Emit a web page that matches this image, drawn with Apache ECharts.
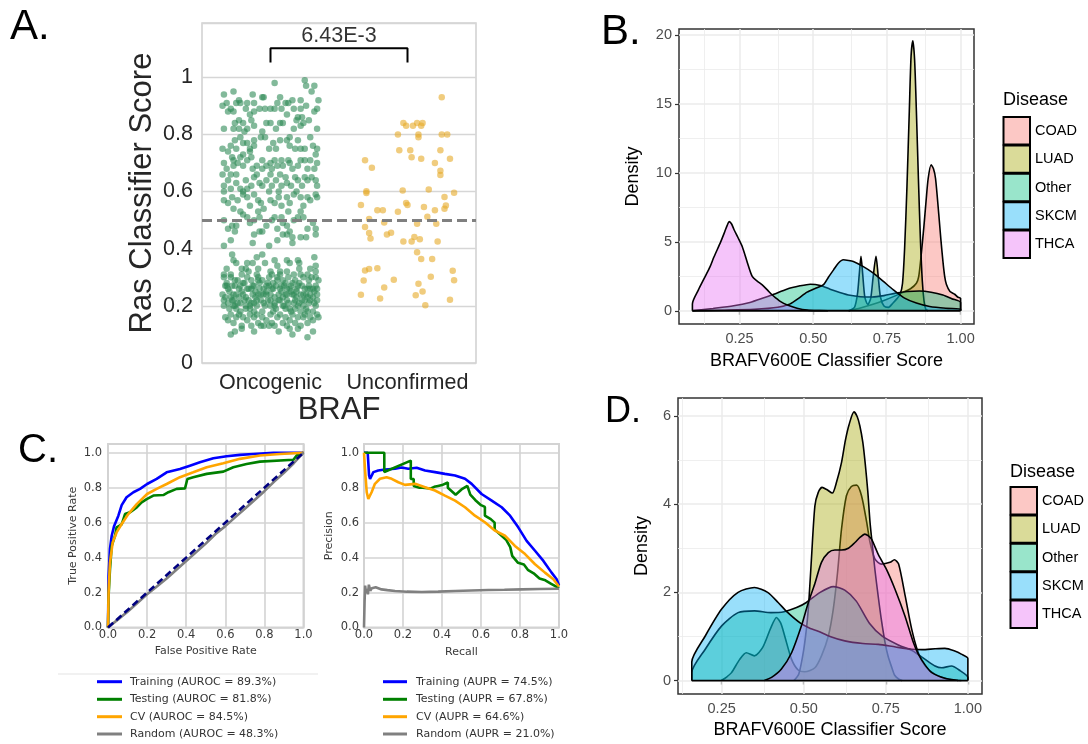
<!DOCTYPE html>
<html><head><meta charset="utf-8">
<script src="https://cdn.jsdelivr.net/npm/echarts@6/dist/echarts.min.js"></script>
<style>html,body{margin:0;padding:0;background:#fff}#c{width:1088px;height:744px}</style>
</head><body><div id="c"></div><script>
// ---------- Panel A data ----------
const brafCategories = ['Oncogenic', 'Unconfirmed'];
const pValueText = '6.43E-3';
// [jitter, Ras classifier score]
const oncogenicPoints = [
[.03,.98],[.25,.99],[.32,.97],[.26,.97],[.30,.95],[-.34,.94],[-.27,.95],[-.13,.94],[-.06,.93],[-.05,.93],[.07,.93],[.35,.92],[.22,.92],
[-.35,.90],[-.32,.91],[-.29,.89],[-.25,.91],[-.23,.92],[-.22,.91],[-.17,.91],[-.18,.89],[-.12,.91],[-.12,.88],[-.08,.89],[-.04,.89],[0,.89],[.03,.89],[.05,.91],[.08,.89],[.11,.91],[.13,.91],[.16,.92],[.17,.89],[.22,.89],[.26,.90],[.32,.88],[.34,.89],[-.31,.88],[-.27,.88],[-.15,.87],[.12,.87],
[-.34,.82],[-.27,.82],[-.26,.84],[-.23,.82],[-.20,.84],[-.19,.81],[-.14,.85],[-.12,.83],[-.06,.81],[-.03,.84],[0,.84],[.04,.82],[.07,.84],[.09,.84],[.17,.82],[.19,.85],[.22,.83],[.24,.84],[.28,.85],[.34,.82],[-.23,.85],[-.17,.82],[.20,.86],[.23,.86],
[-.35,.75],[-.29,.76],[-.26,.78],[-.22,.79],[-.20,.77],[-.17,.77],[-.15,.75],[-.12,.78],[-.12,.76],[-.07,.79],[-.01,.75],[.02,.77],[.07,.78],[.12,.78],[.14,.79],[.14,.76],[.18,.75],[.20,.78],[.22,.75],[.25,.75],[.29,.79],[.31,.76],[.34,.75],[-.31,.74],[-.25,.75],[-.04,.79],[.04,.75],
[-.34,.70],[-.32,.68],[-.27,.71],[-.27,.69],[-.24,.70],[-.22,.72],[-.20,.69],[-.17,.71],[-.14,.72],[-.13,.68],[-.10,.69],[-.06,.68],[-.03,.69],[0,.70],[.03,.71],[.05,.69],[.08,.71],[.09,.69],[.13,.71],[.14,.70],[.16,.68],[.20,.69],[.22,.71],[.25,.71],[.27,.68],[.29,.71],[.33,.73],[.34,.70],[.32,.68],[-.06,.71],[.01,.68],[-.28,.72],[-.15,.74],[-.20,.73],
[-.35,.66],[-.34,.62],[-.31,.64],[-.29,.66],[-.25,.66],[-.25,.63],[-.22,.61],[-.18,.64],[-.17,.61],[-.14,.62],[-.12,.65],[-.10,.66],[-.08,.63],[-.06,.62],[-.03,.64],[0,.66],[.01,.62],[.04,.64],[.07,.66],[.08,.62],[.11,.65],[.12,.63],[.15,.62],[.18,.65],[.20,.64],[.23,.62],[.25,.65],[.27,.64],[.30,.65],[.33,.64],[.34,.62],[-.34,.60],[-.29,.61],[-.20,.60],[-.01,.60],[.06,.60],[.19,.60],
[-.34,.57],[-.31,.56],[-.28,.58],[-.27,.54],[-.24,.57],[-.20,.59],[-.17,.58],[-.15,.55],[-.12,.59],[-.09,.57],[-.07,.56],[-.05,.54],[0,.57],[.03,.56],[.06,.58],[.08,.55],[.12,.58],[.14,.56],[.17,.59],[.22,.58],[.24,.55],[.27,.58],[.29,.57],[.33,.59],[.34,.58],[-.22,.53],[-.09,.53],[.13,.53],[.22,.53],
[-.34,.50],[-.31,.47],[-.28,.48],[-.26,.46],[-.20,.52],[-.17,.51],[-.15,.49],[-.12,.50],[-.08,.51],[-.03,.48],[.01,.50],[.03,.51],[.08,.51],[.09,.49],[.12,.48],[.17,.50],[.20,.51],[.24,.51],[.27,.47],[.31,.49],[.33,.47],[-.25,.48],[.05,.47],[.14,.46],
[-.34,.41],[-.29,.43],[-.13,.42],[-.12,.45],[-.08,.46],[-.06,.46],[.09,.45],[.12,.45],[.16,.44],[.16,.42],[.22,.44],[.26,.44],[.33,.45],[.05,.43],[-.01,.41],
[-.28,.38],[-.27,.36],[-.25,.35],[-.21,.33],[-.18,.33],[-.17,.35],[-.13,.35],[-.09,.33],[-.06,.38],[-.04,.35],[0,.32],[.05,.34],[.07,.32],[.12,.32],[.14,.35],[.20,.36],[.21,.35],[.21,.33],[.29,.33],[.32,.37],[.33,.34],[-.32,.33],[-.34,.31],[-.10,.37],[.03,.36],[.12,.36],
[-.34,.30],[-.32,.28],[-.31,.26],[-.33,.23],[-.31,.21],[-.29,.30],[-.28,.27],[-.27,.24],[-.27,.22],[-.26,.20],[-.24,.29],[-.23,.26],[-.23,.23],[-.22,.21],[-.20,.28],[-.20,.24],[-.18,.19],[-.17,.30],[-.17,.26],[-.16,.22],[-.15,.20],[-.14,.29],[-.13,.24],[-.12,.27],[-.11,.23],[-.10,.20],[-.09,.30],[-.08,.26],[-.07,.22],[-.06,.29],[-.05,.24],[-.04,.20],[-.03,.27],[-.02,.22],[-.01,.30],[0,.24],[0,.20],[.02,.28],[.02,.26],[.03,.23],[.04,.19],[.05,.30],[.06,.24],[.07,.22],[.08,.27],[.09,.29],[.10,.20],[.11,.24],[.12,.26],[.12,.22],[.13,.30],[.14,.19],[.15,.27],[.16,.24],[.17,.21],[.18,.29],[.19,.26],[.19,.23],[.20,.20],[.21,.28],[.22,.24],[.23,.22],[.24,.30],[.25,.26],[.26,.19],[.27,.23],[.28,.29],[.28,.21],[.29,.26],[.30,.30],[.31,.23],[.33,.20],[.33,.27],[.34,.24],[.34,.22],[.35,.29],
[-.30,.19],[-.25,.19],[-.15,.19],[-.06,.18],[.11,.19],[.22,.18],[.31,.18],[-.35,.24],[-.34,.22],[-.21,.31],[-.10,.31],[.01,.31],[.17,.31],[.27,.31],[-.32,.27],[-.29,.23],[-.25,.24],[-.22,.27],[-.19,.22],[-.14,.26],[-.12,.21],[-.09,.24],[-.05,.26],[-.01,.27],[.03,.21],[.07,.26],[.09,.23],[.14,.26],[.17,.24],[.20,.27],[.24,.24],[.25,.22],[.29,.24],[.32,.25],[-.26,.29],[-.18,.20],[-.09,.29],[-.03,.24],[.05,.29],[.11,.28],[.18,.19],[.27,.26],[.33,.30],[-.27,.20],
[-.33,.27],[-.30,.25],[-.28,.22],[-.26,.27],[-.24,.21],[-.21,.25],[-.19,.28],[-.18,.23],[-.16,.26],[-.14,.21],[-.13,.27],[-.11,.25],[-.10,.22],[-.08,.28],[-.07,.24],[-.05,.21],[-.03,.25],[-.02,.28],[0,.22],[.01,.26],[.03,.20],[.04,.27],[.06,.22],[.08,.25],[.09,.20],[.10,.27],[.12,.24],[.13,.21],[.15,.25],[.16,.28],[.18,.22],[.19,.25],[.21,.21],[.23,.27],[.24,.20],[.26,.24],[.28,.27],[.29,.22],[.31,.26],[.32,.21],[.34,.26],[-.34,.20],[-.22,.18],[-.12,.18],[.02,.18],[.15,.18],[.27,.18],[-.29,.31],[-.16,.32],[.07,.31],[.22,.31],[.33,.32],
[-.33,.16],[-.31,.15],[-.29,.17],[-.27,.14],[-.25,.16],[-.23,.17],[-.21,.13],[-.20,.16],[-.17,.15],[-.15,.17],[-.14,.13],[-.12,.16],[-.10,.17],[-.09,.14],[-.06,.16],[-.05,.13],[-.03,.15],[0,.17],[.01,.14],[.03,.13],[.05,.16],[.07,.17],[.09,.14],[.11,.16],[.12,.13],[.14,.15],[.16,.17],[.18,.14],[.20,.16],[.22,.13],[.24,.16],[.25,.17],[.27,.14],[.29,.16],[.31,.15],[.34,.17],[.35,.16],
[-.29,.10],[-.26,.11],[-.21,.12],[-.12,.11],[-.07,.13],[-.01,.13],[.06,.11],[.14,.12],[.20,.12],[.16,.10],[.27,.09],[.31,.11]
];
const unconfirmedPoints = [
[.25,.93],[-.03,.84],[-.01,.83],[.04,.83],[.07,.84],[.10,.83],[.11,.84],[-.07,.80],[.08,.80],[.08,.79],[.25,.80],[.29,.80],
[-.06,.745],[.02,.745],[.24,.745],[.03,.72],[.10,.715],[.31,.715],[-.31,.71],[-.26,.683],[.20,.70],[.24,.673],[.24,.658],
[-.30,.601],[-.30,.595],[-.035,.604],[.155,.607],[.34,.596],[.27,.581],[-.34,.553],[-.01,.56],[0,.553],[.12,.546],[.28,.551],[.27,.54],[.20,.535],[-.22,.535],[-.18,.535],[-.07,.529],[.145,.512],
[-.28,.504],[-.17,.492],[.07,.487],[.21,.487],[-.31,.476],[-.28,.455],[-.27,.436],[-.15,.45],[-.12,.456],[.05,.441],[.09,.433],[-.03,.425],[.03,.425],[.22,.425],
[.07,.388],[.10,.364],[.18,.364],[-.31,.324],[-.28,.329],[-.22,.332],[.33,.323],[-.32,.289],[-.10,.291],[.17,.302],[.34,.29],[-.17,.264],[.08,.277],[-.34,.239],[-.20,.226],[.06,.237],[.11,.25],[.31,.221],[.13,.202]
];
const thresholdA = 0.5;
const bracketA = [[1, 1.052], [1, 1.102], [2, 1.102], [2, 1.052]];

// ---------- Panels B and D ----------
const diseases = ['COAD', 'LUAD', 'Other', 'SKCM', 'THCA'];
const diseaseColors = ['#F8766D', '#A3A500', '#00BF7D', '#00B0F6', '#E76BF3'];
const densityB_COAD = [[0.62,0],[0.66,0.2],[0.7,0.45],[0.74,0.75],[0.78,1.1],[0.8,1.3],[0.83,1.6],[0.85,2.0],[0.858,2.5],[0.866,4.0],[0.875,6.0],[0.883,8.0],[0.89,9.6],[0.9,10.6],[0.908,10.3],[0.915,9.6],[0.926,7.0],[0.933,5.2],[0.94,3.6],[0.946,2.5],[0.952,1.9],[0.964,1.4],[0.98,1.2],[0.99,1.0],[1.0,0.9],[1.0,0]];
const densityB_LUAD = [[0.62,0],[0.64,0.25],[0.65,1.2],[0.656,2.6],[0.662,3.95],[0.668,2.6],[0.675,1.0],[0.685,0.45],[0.695,0.9],[0.703,2.4],[0.713,3.95],[0.72,2.6],[0.728,1.0],[0.74,0.35],[0.755,0.25],[0.77,0.55],[0.785,0.9],[0.795,1.2],[0.803,2.0],[0.81,4.5],[0.818,9.0],[0.826,14.5],[0.832,18.5],[0.838,19.6],[0.844,18.2],[0.85,14.5],[0.857,9.5],[0.864,5.0],[0.87,2.2],[0.876,0.7],[0.882,0.1],[0.89,0]];
const densityB_Other = [[0.09,0],[0.16,0.17],[0.23,0.36],[0.285,0.6],[0.33,0.92],[0.366,1.2],[0.41,1.57],[0.455,1.81],[0.49,1.93],[0.524,1.84],[0.557,1.57],[0.59,1.33],[0.625,1.12],[0.66,1.02],[0.7,1.0],[0.74,1.1],[0.78,1.28],[0.82,1.4],[0.86,1.43],[0.9,1.35],[0.94,1.15],[0.97,0.88],[1.0,0.6],[1.0,0]];
const densityB_SKCM = [[0.09,0],[0.2,0.04],[0.3,0.1],[0.38,0.25],[0.422,0.5],[0.45,0.9],[0.479,1.35],[0.51,1.65],[0.535,1.9],[0.552,2.45],[0.569,2.97],[0.585,3.45],[0.602,3.7],[0.62,3.65],[0.636,3.57],[0.67,3.2],[0.704,2.73],[0.738,2.13],[0.772,1.52],[0.81,0.92],[0.85,0.56],[0.895,0.31],[0.95,0.18],[1.0,0.12],[1.0,0]];
const densityB_THCA = [[0.09,0],[0.09,0.5],[0.11,1.5],[0.13,2.35],[0.15,3.2],[0.163,3.9],[0.186,5.0],[0.2,5.75],[0.208,6.2],[0.215,6.47],[0.223,6.3],[0.231,5.9],[0.245,5.3],[0.259,4.66],[0.275,3.6],[0.293,2.49],[0.31,2.15],[0.327,1.88],[0.345,1.5],[0.36,1.16],[0.375,0.9],[0.388,0.68],[0.41,0.43],[0.445,0.19],[0.48,0.05],[0.52,0.01],[0.55,0]];
const baselineB = [[0.09,0],[1.0,0]];
const xTicksBD = [0.25, 0.5, 0.75, 1.0];
const xMinorBD = [0.125, 0.375, 0.625, 0.875];
const yTicksB = [0, 5, 10, 15, 20];
const yMinorB = [2.5, 7.5, 12.5, 17.5];

const densityD_COAD = [[0.249,0],[0.265,0.08],[0.28,0.18],[0.305,0.48],[0.325,0.63],[0.35,0.56],[0.375,0.75],[0.4,1.2],[0.417,1.43],[0.43,1.3],[0.442,1.01],[0.463,0.48],[0.483,0.24],[0.503,0.2],[0.534,0.29],[0.554,0.56],[0.575,1.01],[0.59,1.62],[0.603,2.45],[0.615,3.43],[0.63,4.19],[0.645,4.4],[0.661,4.43],[0.676,4.19],[0.692,3.58],[0.702,3.13],[0.717,2.75],[0.737,2.64],[0.763,2.68],[0.776,2.74],[0.789,2.64],[0.809,1.92],[0.829,1.16],[0.849,0.63],[0.87,0.33],[0.9,0.14],[0.94,0.03],[0.98,0]];
const densityD_LUAD = [[0.47,0],[0.485,0.15],[0.5,0.7],[0.51,1.3],[0.516,1.84],[0.524,2.83],[0.534,3.96],[0.544,4.26],[0.556,4.38],[0.57,4.33],[0.587,4.25],[0.6,4.5],[0.615,4.94],[0.627,5.45],[0.638,5.8],[0.653,6.09],[0.663,5.98],[0.671,5.77],[0.68,5.4],[0.687,4.94],[0.695,4.3],[0.702,3.58],[0.71,3.0],[0.717,2.5],[0.727,1.9],[0.737,1.35],[0.748,0.85],[0.757,0.55],[0.768,0.3],[0.777,0.12],[0.79,0.03],[0.8,0]];
const densityD_Other = [[0.159,0],[0.159,0.18],[0.2,0.71],[0.25,1.24],[0.3,1.54],[0.35,1.58],[0.4,1.54],[0.44,1.56],[0.48,1.66],[0.508,1.77],[0.55,2.0],[0.59,2.13],[0.625,2.05],[0.66,1.8],[0.7,1.3],[0.74,1.0],[0.79,0.8],[0.83,0.68],[0.87,0.48],[0.9,0.33],[0.92,0.29],[0.95,0.33],[0.977,0.22],[1.0,0.07],[1.0,0]];
const densityD_SKCM = [[0.159,0],[0.159,0.42],[0.2,1.01],[0.25,1.62],[0.3,2.0],[0.35,2.11],[0.39,2.0],[0.422,1.77],[0.45,1.55],[0.49,1.3],[0.52,1.18],[0.544,1.12],[0.58,1.0],[0.625,0.9],[0.68,0.84],[0.727,0.82],[0.78,0.76],[0.829,0.71],[0.86,0.7],[0.9,0.72],[0.93,0.73],[0.96,0.67],[0.98,0.6],[1.0,0.5],[1.0,0]];
const densityD_THCA = [[0.38,0],[0.402,0.07],[0.432,0.26],[0.463,0.63],[0.493,1.24],[0.514,1.77],[0.534,2.2],[0.554,2.68],[0.575,2.9],[0.595,2.96],[0.615,2.96],[0.636,3.0],[0.656,3.13],[0.672,3.25],[0.686,3.32],[0.697,3.28],[0.707,3.2],[0.727,2.86],[0.752,2.52],[0.778,2.07],[0.808,1.47],[0.834,0.86],[0.849,0.6],[0.87,0.35],[0.89,0.18],[0.93,0.05],[0.97,0]];
const baselineD = [[0.159,0],[1.0,0]];
const yTicksD = [0, 2, 4, 6];
const yMinorD = [1, 3, 5];

// ---------- Panel C ----------
const curveColors = ['#0000ff', '#008000', '#ffa500', '#808080'];
const rocLegend = ['Training (AUROC = 89.3%)', 'Testing (AUROC = 81.8%)', 'CV (AUROC = 84.5%)', 'Random (AUROC = 48.3%)'];
const prLegend = ['Training (AUPR = 74.5%)', 'Testing (AUPR = 67.8%)', 'CV (AUPR = 64.6%)', 'Random (AUPR = 21.0%)'];
const rocTraining = [[0,0],[0.003,0.295],[0.01,0.45],[0.019,0.525],[0.031,0.58],[0.053,0.64],[0.07,0.7],[0.095,0.745],[0.13,0.774],[0.164,0.793],[0.2,0.821],[0.249,0.85],[0.3,0.888],[0.368,0.907],[0.419,0.926],[0.47,0.945],[0.539,0.968],[0.607,0.98],[0.675,0.988],[0.743,0.993],[0.846,0.999],[1,1]];
const rocTesting = [[0,0],[0.003,0.18],[0.01,0.33],[0.019,0.467],[0.036,0.525],[0.044,0.573],[0.07,0.59],[0.087,0.649],[0.112,0.659],[0.147,0.687],[0.172,0.716],[0.198,0.735],[0.232,0.755],[0.283,0.758],[0.309,0.774],[0.351,0.793],[0.394,0.796],[0.406,0.85],[0.436,0.86],[0.505,0.879],[0.59,0.892],[0.641,0.917],[0.709,0.936],[0.777,0.949],[0.948,0.96],[0.965,0.984],[1,1]];
const rocCV = [[0,0],[0.003,0.2],[0.01,0.37],[0.024,0.487],[0.044,0.544],[0.07,0.592],[0.104,0.649],[0.147,0.706],[0.2,0.764],[0.249,0.793],[0.3,0.821],[0.368,0.86],[0.436,0.888],[0.505,0.917],[0.59,0.94],[0.675,0.965],[0.777,0.984],[0.88,0.993],[1,1]];
const rocRandom = [[0,0],[0.05,0.045],[0.1,0.09],[0.15,0.14],[0.2,0.19],[0.25,0.235],[0.3,0.28],[0.35,0.33],[0.4,0.38],[0.45,0.43],[0.5,0.48],[0.55,0.535],[0.6,0.58],[0.65,0.63],[0.7,0.68],[0.75,0.73],[0.8,0.78],[0.85,0.835],[0.9,0.885],[0.95,0.94],[1,1]];
const rocChance = [[0,0],[1,1]];
const prTraining = [[0,1.0],[0.019,1.0],[0.026,0.87],[0.031,0.85],[0.048,0.889],[0.073,0.898],[0.108,0.904],[0.159,0.908],[0.193,0.916],[0.227,0.908],[0.27,0.914],[0.313,0.898],[0.364,0.889],[0.415,0.879],[0.467,0.87],[0.518,0.851],[0.552,0.822],[0.603,0.764],[0.655,0.726],[0.706,0.688],[0.749,0.64],[0.791,0.573],[0.834,0.496],[0.877,0.439],[0.92,0.381],[0.962,0.314],[0.988,0.276],[1.0,0.24]];
const prTesting = [[0,1],[0.104,1],[0.104,0.89],[0.24,0.955],[0.24,0.85],[0.255,0.85],[0.255,0.81],[0.285,0.8],[0.3,0.8],[0.3,0.79],[0.34,0.795],[0.36,0.805],[0.38,0.81],[0.4,0.815],[0.43,0.83],[0.43,0.8],[0.45,0.78],[0.47,0.76],[0.47,0.77],[0.5,0.79],[0.53,0.81],[0.54,0.82],[0.545,0.76],[0.57,0.73],[0.6,0.7],[0.62,0.69],[0.62,0.64],[0.65,0.62],[0.67,0.6],[0.67,0.56],[0.7,0.53],[0.73,0.5],[0.75,0.46],[0.76,0.41],[0.79,0.37],[0.82,0.36],[0.84,0.33],[0.87,0.31],[0.9,0.28],[0.93,0.27],[0.96,0.25],[1.0,0.225]];
const prCV = [[0,1.0],[0.005,0.908],[0.014,0.774],[0.022,0.736],[0.039,0.774],[0.056,0.822],[0.082,0.851],[0.116,0.86],[0.142,0.851],[0.176,0.831],[0.21,0.816],[0.262,0.822],[0.313,0.803],[0.364,0.784],[0.415,0.755],[0.467,0.726],[0.518,0.688],[0.569,0.64],[0.62,0.602],[0.672,0.554],[0.723,0.525],[0.774,0.467],[0.826,0.42],[0.877,0.362],[0.928,0.314],[0.971,0.276],[1.0,0.235]];
const prRandom = [[0,0],[0.003,0.15],[0.006,0.24],[0.01,0.2],[0.014,0.22],[0.02,0.19],[0.025,0.245],[0.032,0.21],[0.04,0.225],[0.05,0.215],[0.06,0.23],[0.07,0.22],[0.09,0.218],[0.12,0.214],[0.159,0.209],[0.22,0.205],[0.296,0.203],[0.38,0.205],[0.467,0.209],[0.55,0.212],[0.638,0.215],[0.72,0.216],[0.809,0.218],[0.9,0.22],[1.0,0.222]];

// ---------- Build chart ----------
const FA = '"Liberation Sans", Arial, sans-serif';
const FC = '"DejaVu Sans", sans-serif';
function rgba(hex, a) {
  const n = parseInt(hex.slice(1), 16);
  return 'rgba(' + (n >> 16) + ',' + ((n >> 8) & 255) + ',' + (n & 255) + ',' + a + ')';
}
function isMultiple(v, step) { return Math.abs(v / step - Math.round(v / step)) < 1e-6; }

const chart = echarts.init(document.getElementById('c'));

function densitySeries(name, data, color, xi, yi, order) {
  return { type: 'line', name, data, xAxisIndex: xi, yAxisIndex: yi, symbol: 'none', smooth: 0.25,
    lineStyle: { color: '#000', width: 1.6 }, itemStyle: { color: color },
    areaStyle: { color: rgba(color, 0.4), opacity: 1 }, silent: true, z: 2 + order };
}
function gridLineSeries(xi, yi, xs, ys, width) {
  return { type: 'line', xAxisIndex: xi, yAxisIndex: yi, data: [], silent: true, z: 1,
    markLine: { silent: true, symbol: 'none', z: 1, animation: false, label: { show: false },
      lineStyle: { color: '#ebebeb', width: width, type: 'solid' },
      data: xs.map(v => ({ xAxis: v })).concat(ys.map(v => ({ yAxis: v }))) } };
}
function curveSeries(data, color, xi, yi, extra) {
  return Object.assign({ type: 'line', data, xAxisIndex: xi, yAxisIndex: yi, symbol: 'none',
    lineStyle: { color, width: 2.6 }, itemStyle: { color }, silent: true, z: 3 }, extra || {});
}

const densB = [densityB_COAD, densityB_LUAD, densityB_Other, densityB_SKCM, densityB_THCA];
const densD = [densityD_COAD, densityD_LUAD, densityD_Other, densityD_SKCM, densityD_THCA];

const series = [];
// Panel A
series.push({ type: 'scatter', xAxisIndex: 1, yAxisIndex: 0, symbolSize: 6.5, silent: true,
  data: oncogenicPoints.map(p => [1 + p[0], p[1]]), itemStyle: { color: 'rgba(46,139,87,0.75)' } });
series.push({ type: 'scatter', xAxisIndex: 1, yAxisIndex: 0, symbolSize: 6.5, silent: true,
  data: unconfirmedPoints.map(p => [2 + p[0], p[1]]), itemStyle: { color: 'rgba(230,170,40,0.75)' },
  markLine: { silent: true, symbol: 'none', label: { show: false }, animation: false,
    lineStyle: { color: '#808080', width: 3, type: [10, 5] }, data: [{ yAxis: thresholdA }] } });
series.push({ type: 'line', xAxisIndex: 1, yAxisIndex: 0, data: bracketA, symbol: 'none', silent: true,
  lineStyle: { color: '#000', width: 2 } });
series.push({ type: 'scatter', xAxisIndex: 1, yAxisIndex: 0, data: [[1.5, 1.144]], symbolSize: 1, silent: true,
  itemStyle: { color: 'transparent' },
  label: { show: true, position: 'inside', formatter: pValueText, fontSize: 21.5, color: '#000', fontFamily: FA } });
// Panel B
series.push(gridLineSeries(2, 1, xTicksBD, yTicksB, 1.5));
series.push(gridLineSeries(2, 1, xMinorBD, yMinorB, 0.8));
diseases.forEach((d, i) => series.push(densitySeries(d, densB[i], diseaseColors[i], 2, 1, i)));
series.push({ type: 'line', xAxisIndex: 2, yAxisIndex: 1, data: baselineB, symbol: 'none', silent: true, z: 10, lineStyle: { color: '#000', width: 1.8 } });
// Panel D
series.push(gridLineSeries(5, 4, xTicksBD, yTicksD, 1.5));
series.push(gridLineSeries(5, 4, xMinorBD, yMinorD, 0.8));
diseases.forEach((d, i) => series.push(densitySeries(d, densD[i], diseaseColors[i], 5, 4, i)));
series.push({ type: 'line', xAxisIndex: 5, yAxisIndex: 4, data: baselineD, symbol: 'none', silent: true, z: 10, lineStyle: { color: '#000', width: 1.8 } });
// Panel C
[rocTraining, rocTesting, rocCV, rocRandom].forEach((d, i) => series.push(curveSeries(d, curveColors[i], 3, 2)));
series.push(curveSeries(rocChance, '#000080', 3, 2, { lineStyle: { color: '#000080', width: 2.6, type: [7, 4] }, z: 4 }));
[prTraining, prTesting, prCV, prRandom].forEach((d, i) => series.push(curveSeries(d, curveColors[i], 4, 3)));

function bdXAxis(gi, min, max, gap) {
  return { type: 'value', gridIndex: gi, min, max, splitLine: { show: false }, axisLine: { show: false },
    axisTick: { show: true, length: 4, customValues: xTicksBD, lineStyle: { color: '#333', width: 1.2 } },
    axisLabel: { customValues: xTicksBD, formatter: v => v.toFixed(2), fontSize: 14.5, color: '#4d4d4d', fontFamily: FA, margin: 7 },
    name: 'BRAFV600E Classifier Score', nameLocation: 'middle', nameGap: gap,
    nameTextStyle: { fontSize: 18, color: '#000', fontFamily: FA } };
}
function bdYAxis(gi, min, max, ticks, gap) {
  return { type: 'value', gridIndex: gi, min, max, splitLine: { show: false }, axisLine: { show: false },
    axisTick: { show: true, length: 4, customValues: ticks, lineStyle: { color: '#333', width: 1.2 } },
    axisLabel: { customValues: ticks, fontSize: 14.5, color: '#4d4d4d', fontFamily: FA, margin: 7 },
    name: 'Density', nameLocation: 'middle', nameGap: gap,
    nameTextStyle: { fontSize: 18, color: '#000', fontFamily: FA } };
}
function cAxis(gi, isY, name, gap, margin) {
  return { type: 'value', gridIndex: gi, min: 0, max: isY ? 1.05 : 1, interval: 0.2,
    axisLine: { show: false }, axisTick: { show: false },
    splitLine: { show: true, lineStyle: { color: '#d3d3d3', width: 1.6 } },
    axisLabel: { formatter: v => isMultiple(v, 0.2) ? v.toFixed(1) : '', fontSize: 11.5, color: '#3a3a3a', fontFamily: FC, margin: margin },
    name, nameLocation: 'middle', nameGap: gap, nameTextStyle: { fontSize: 11, color: '#3a3a3a', fontFamily: FC } };
}

const graphic = [];
function panelLabel(t, x, y, size) {
  graphic.push({ type: 'text', x, y, silent: true, style: { text: t, fontSize: size, fontFamily: FA, fill: '#000', verticalAlign: 'middle', align: 'left' } });
}
panelLabel('A.', 10, 27, 42);
panelLabel('B.', 601, 32, 42);
panelLabel('C.', 18, 451, 40);
panelLabel('D.', 605, 412, 36);

function diseaseLegend(x, titleY, top, textX) {
  graphic.push({ type: 'text', x: x, y: titleY, silent: true, style: { text: 'Disease', fontSize: 18, fontFamily: FA, fill: '#000', verticalAlign: 'middle' } });
  diseases.forEach((d, i) => {
    const y = top + i * 28.4;
    graphic.push({ type: 'rect', silent: true, shape: { x: x + 0.5, y: y, width: 26.5, height: 27.4 }, style: { fill: rgba(diseaseColors[i], 0.4), stroke: '#000', lineWidth: 2 } });
    graphic.push({ type: 'text', x: textX, y: y + 13.7, silent: true, style: { text: d, fontSize: 14.5, fontFamily: FA, fill: '#000', verticalAlign: 'middle' } });
  });
}
diseaseLegend(1003, 100, 117, 1035);
diseaseLegend(1010, 472, 487, 1042);

function curveLegend(labels, x1, x2, tx) {
  const ys = [681.7, 699.3, 716.7, 734];
  labels.forEach((l, i) => {
    graphic.push({ type: 'line', silent: true, shape: { x1: x1, y1: ys[i], x2: x2, y2: ys[i] }, style: { stroke: curveColors[i], lineWidth: 3 } });
    graphic.push({ type: 'text', x: tx, y: ys[i], silent: true, style: { text: l, fontSize: 11, fontFamily: FC, fill: '#333', verticalAlign: 'middle' } });
  });
}
graphic.push({ type: 'line', silent: true, shape: { x1: 58, y1: 674, x2: 318, y2: 674 }, style: { stroke: '#e3e3e3', lineWidth: 1 } });
curveLegend(rocLegend, 97, 122, 130);
curveLegend(prLegend, 383, 407, 416);

const option = {
  animation: false,
  backgroundColor: '#fff',
  grid: [
    { left: 202, top: 23, width: 274, height: 340, show: true, borderColor: '#d0d0d0', borderWidth: 1.5, backgroundColor: '#fff' },
    { left: 679, top: 29, width: 295, height: 295, show: true, borderColor: '#333', borderWidth: 1.5 },
    { left: 108, top: 444, width: 195.5, height: 183.5, show: true, borderColor: '#d3d3d3', borderWidth: 2 },
    { left: 364, top: 444, width: 195, height: 183.5, show: true, borderColor: '#d3d3d3', borderWidth: 2 },
    { left: 678, top: 398, width: 304, height: 296, show: true, borderColor: '#333', borderWidth: 1.5 }
  ],
  xAxis: [
    { type: 'category', gridIndex: 0, data: brafCategories, boundaryGap: true, axisLine: { show: false }, axisTick: { show: false },
      axisLabel: { fontSize: 21.5, color: '#262626', fontFamily: FA, margin: 9, interval: 0 },
      name: 'BRAF', nameLocation: 'middle', nameGap: 30, nameTextStyle: { fontSize: 31, color: '#262626', fontFamily: FA } },
    { type: 'value', gridIndex: 0, min: 0.5, max: 2.5, show: false },
    bdXAxis(1, 0.0445, 1.0455, 28),
    cAxis(2, false, 'False Positive Rate', 18, 2),
    cAxis(3, false, 'Recall', 19, 2),
    bdXAxis(4, 0.117, 1.043, 27)
  ],
  yAxis: [
    { type: 'value', gridIndex: 0, min: 0, max: 1.19, interval: 0.2, axisLine: { show: false }, axisTick: { show: false },
      splitLine: { show: true, lineStyle: { color: '#d6d6d6', width: 1.3 } },
      axisLabel: { formatter: v => (v === 0 ? '0' : (Math.abs(v - 1) < 1e-9 ? '1' : (isMultiple(v, 0.2) && v < 1.01 ? v.toFixed(1) : ''))),
        fontSize: 21.5, color: '#262626', fontFamily: FA, margin: 9 },
      name: 'Ras Classifier Score', nameLocation: 'middle', nameGap: 44, nameTextStyle: { fontSize: 31, color: '#262626', fontFamily: FA } },
    bdYAxis(1, -0.96, 20.45, yTicksB, 37),
    cAxis(2, true, 'True Positive Rate', 29, 6),
    cAxis(3, true, 'Precision', 29, 5),
    bdYAxis(4, -0.305, 6.405, yTicksD, 27)
  ],
  series,
  graphic
};
chart.setOption(option);
</script></body></html>
